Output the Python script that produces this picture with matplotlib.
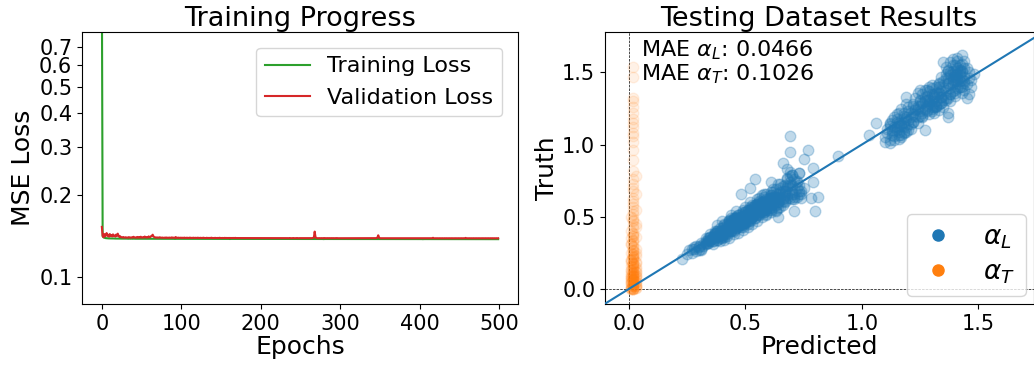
import matplotlib
matplotlib.use("Agg")
import matplotlib.pyplot as plt
from matplotlib.lines import Line2D
from matplotlib.ticker import FixedLocator, FixedFormatter, NullLocator

# ---------------- Training progress data ----------------
train_loss = [
    1.2500, 0.1415, 0.1402, 0.1396, 0.1393, 0.1391, 0.1390, 0.1389, 0.1389, 0.1388, 0.1388, 0.1388, 0.1387, 0.1387, 0.1387, 0.1387, 0.1386, 0.1386, 0.1386, 0.1386, 0.1386, 0.1386, 0.1386, 0.1385, 0.1385,
    0.1385, 0.1385, 0.1385, 0.1385, 0.1385, 0.1385, 0.1385, 0.1385, 0.1384, 0.1385, 0.1385, 0.1384, 0.1385, 0.1384, 0.1384, 0.1385, 0.1384, 0.1384, 0.1384, 0.1384, 0.1384, 0.1384, 0.1384, 0.1384, 0.1384,
    0.1384, 0.1384, 0.1384, 0.1384, 0.1384, 0.1384, 0.1383, 0.1384, 0.1384, 0.1383, 0.1384, 0.1384, 0.1383, 0.1384, 0.1383, 0.1384, 0.1383, 0.1383, 0.1384, 0.1383, 0.1383, 0.1384, 0.1383, 0.1383, 0.1383,
    0.1383, 0.1383, 0.1383, 0.1383, 0.1383, 0.1384, 0.1383, 0.1383, 0.1383, 0.1383, 0.1383, 0.1383, 0.1383, 0.1383, 0.1383, 0.1383, 0.1383, 0.1382, 0.1383, 0.1383, 0.1383, 0.1382, 0.1383, 0.1383, 0.1383,
    0.1383, 0.1382, 0.1383, 0.1383, 0.1382, 0.1383, 0.1383, 0.1382, 0.1383, 0.1382, 0.1383, 0.1383, 0.1382, 0.1383, 0.1382, 0.1383, 0.1382, 0.1382, 0.1383, 0.1382, 0.1383, 0.1382, 0.1382, 0.1383, 0.1382,
    0.1382, 0.1382, 0.1383, 0.1382, 0.1382, 0.1382, 0.1383, 0.1382, 0.1382, 0.1382, 0.1382, 0.1383, 0.1382, 0.1382, 0.1382, 0.1382, 0.1382, 0.1382, 0.1382, 0.1382, 0.1383, 0.1382, 0.1382, 0.1382, 0.1382,
    0.1382, 0.1382, 0.1382, 0.1382, 0.1382, 0.1382, 0.1382, 0.1382, 0.1382, 0.1382, 0.1382, 0.1381, 0.1382, 0.1382, 0.1382, 0.1382, 0.1382, 0.1381, 0.1382, 0.1382, 0.1382, 0.1382, 0.1381, 0.1382, 0.1382,
    0.1382, 0.1382, 0.1381, 0.1382, 0.1382, 0.1382, 0.1381, 0.1382, 0.1382, 0.1382, 0.1381, 0.1382, 0.1382, 0.1381, 0.1382, 0.1382, 0.1381, 0.1382, 0.1382, 0.1381, 0.1382, 0.1382, 0.1381, 0.1382, 0.1381,
    0.1382, 0.1381, 0.1382, 0.1382, 0.1381, 0.1382, 0.1381, 0.1382, 0.1381, 0.1382, 0.1381, 0.1381, 0.1382, 0.1381, 0.1382, 0.1381, 0.1381, 0.1382, 0.1381, 0.1381, 0.1382, 0.1381, 0.1381, 0.1382, 0.1381,
    0.1381, 0.1382, 0.1381, 0.1381, 0.1381, 0.1382, 0.1381, 0.1381, 0.1381, 0.1382, 0.1381, 0.1381, 0.1381, 0.1381, 0.1382, 0.1381, 0.1381, 0.1381, 0.1381, 0.1381, 0.1382, 0.1381, 0.1381, 0.1381, 0.1381,
    0.1381, 0.1381, 0.1381, 0.1381, 0.1381, 0.1381, 0.1381, 0.1381, 0.1382, 0.1381, 0.1381, 0.1381, 0.1381, 0.1381, 0.1381, 0.1381, 0.1381, 0.1381, 0.1382, 0.1381, 0.1381, 0.1381, 0.1381, 0.1381, 0.1381,
    0.1381, 0.1381, 0.1381, 0.1381, 0.1380, 0.1381, 0.1381, 0.1381, 0.1381, 0.1380, 0.1381, 0.1381, 0.1381, 0.1381, 0.1380, 0.1381, 0.1381, 0.1381, 0.1380, 0.1381, 0.1381, 0.1381, 0.1380, 0.1381, 0.1381,
    0.1380, 0.1381, 0.1381, 0.1380, 0.1381, 0.1381, 0.1380, 0.1381, 0.1381, 0.1380, 0.1381, 0.1380, 0.1381, 0.1381, 0.1380, 0.1381, 0.1380, 0.1381, 0.1380, 0.1381, 0.1381, 0.1380, 0.1381, 0.1380, 0.1381,
    0.1380, 0.1381, 0.1380, 0.1381, 0.1380, 0.1381, 0.1380, 0.1380, 0.1381, 0.1380, 0.1381, 0.1380, 0.1380, 0.1381, 0.1380, 0.1380, 0.1381, 0.1380, 0.1380, 0.1381, 0.1380, 0.1380, 0.1381, 0.1380, 0.1380,
    0.1380, 0.1381, 0.1380, 0.1380, 0.1380, 0.1381, 0.1380, 0.1380, 0.1380, 0.1380, 0.1381, 0.1380, 0.1380, 0.1380, 0.1380, 0.1381, 0.1380, 0.1380, 0.1380, 0.1380, 0.1380, 0.1381, 0.1380, 0.1380, 0.1380,
    0.1380, 0.1380, 0.1380, 0.1380, 0.1380, 0.1381, 0.1380, 0.1380, 0.1380, 0.1380, 0.1380, 0.1380, 0.1380, 0.1380, 0.1381, 0.1380, 0.1380, 0.1380, 0.1380, 0.1380, 0.1380, 0.1380, 0.1380, 0.1380, 0.1380,
    0.1380, 0.1380, 0.1380, 0.1380, 0.1379, 0.1380, 0.1380, 0.1380, 0.1380, 0.1380, 0.1379, 0.1380, 0.1380, 0.1380, 0.1380, 0.1379, 0.1380, 0.1380, 0.1380, 0.1380, 0.1379, 0.1380, 0.1380, 0.1380, 0.1379,
    0.1380, 0.1380, 0.1379, 0.1380, 0.1380, 0.1380, 0.1379, 0.1380, 0.1380, 0.1379, 0.1380, 0.1380, 0.1379, 0.1380, 0.1380, 0.1379, 0.1380, 0.1380, 0.1379, 0.1380, 0.1379, 0.1380, 0.1380, 0.1379, 0.1380,
    0.1379, 0.1380, 0.1379, 0.1380, 0.1380, 0.1379, 0.1380, 0.1379, 0.1380, 0.1379, 0.1380, 0.1379, 0.1380, 0.1379, 0.1380, 0.1379, 0.1379, 0.1380, 0.1379, 0.1380, 0.1379, 0.1379, 0.1380, 0.1379, 0.1379,
    0.1380, 0.1379, 0.1379, 0.1380, 0.1379, 0.1379, 0.1379, 0.1380, 0.1379, 0.1379, 0.1379, 0.1380, 0.1379, 0.1379, 0.1379, 0.1379, 0.1380, 0.1379, 0.1379, 0.1379, 0.1379, 0.1379, 0.1380, 0.1379, 0.1379,
]

val_loss = [
    0.1530, 0.1418, 0.1402, 0.1440, 0.1412, 0.1425, 0.1452, 0.1419, 0.1431, 0.1408, 0.1440, 0.1416, 0.1428, 0.1411, 0.1436, 0.1415, 0.1422, 0.1409, 0.1433, 0.1417, 0.1445, 0.1421, 0.1405, 0.1414, 0.1402,
    0.1401, 0.1398, 0.1404, 0.1399, 0.1397, 0.1402, 0.1398, 0.1396, 0.1400, 0.1403, 0.1397, 0.1399, 0.1396, 0.1401, 0.1398, 0.1407, 0.1399, 0.1397, 0.1400, 0.1396, 0.1405, 0.1398, 0.1402, 0.1397, 0.1408,
    0.1399, 0.1397, 0.1403, 0.1398, 0.1410, 0.1402, 0.1397, 0.1404, 0.1399, 0.1412, 0.1401, 0.1403, 0.1415, 0.1419, 0.1432, 0.1412, 0.1403, 0.1398, 0.1400, 0.1397, 0.1399, 0.1396, 0.1398, 0.1401, 0.1397,
    0.1395, 0.1398, 0.1396, 0.1394, 0.1397, 0.1395, 0.1399, 0.1394, 0.1396, 0.1395, 0.1398, 0.1394, 0.1396, 0.1400, 0.1395, 0.1397, 0.1394, 0.1396, 0.1404, 0.1395, 0.1393, 0.1397, 0.1395, 0.1394, 0.1396,
    0.1394, 0.1396, 0.1393, 0.1395, 0.1397, 0.1394, 0.1393, 0.1396, 0.1394, 0.1393, 0.1395, 0.1397, 0.1393, 0.1394, 0.1393, 0.1396, 0.1394, 0.1393, 0.1395, 0.1393, 0.1394, 0.1396, 0.1393, 0.1393, 0.1395,
    0.1393, 0.1393, 0.1394, 0.1396, 0.1393, 0.1393, 0.1392, 0.1395, 0.1393, 0.1393, 0.1394, 0.1392, 0.1393, 0.1396, 0.1393, 0.1392, 0.1393, 0.1393, 0.1394, 0.1392, 0.1393, 0.1393, 0.1392, 0.1395, 0.1393,
    0.1392, 0.1393, 0.1393, 0.1392, 0.1393, 0.1394, 0.1392, 0.1393, 0.1392, 0.1393, 0.1392, 0.1393, 0.1392, 0.1392, 0.1393, 0.1392, 0.1393, 0.1392, 0.1394, 0.1392, 0.1392, 0.1393, 0.1392, 0.1392, 0.1393,
    0.1392, 0.1393, 0.1392, 0.1392, 0.1392, 0.1393, 0.1392, 0.1392, 0.1391, 0.1393, 0.1392, 0.1392, 0.1391, 0.1392, 0.1393, 0.1391, 0.1392, 0.1392, 0.1391, 0.1393, 0.1392, 0.1391, 0.1392, 0.1392, 0.1391,
    0.1392, 0.1391, 0.1392, 0.1393, 0.1391, 0.1392, 0.1391, 0.1392, 0.1391, 0.1392, 0.1391, 0.1393, 0.1391, 0.1391, 0.1392, 0.1391, 0.1392, 0.1391, 0.1391, 0.1392, 0.1391, 0.1391, 0.1392, 0.1391, 0.1391,
    0.1392, 0.1391, 0.1391, 0.1391, 0.1392, 0.1391, 0.1391, 0.1392, 0.1391, 0.1391, 0.1390, 0.1392, 0.1391, 0.1391, 0.1390, 0.1391, 0.1392, 0.1391, 0.1390, 0.1391, 0.1391, 0.1392, 0.1390, 0.1391, 0.1391,
    0.1391, 0.1390, 0.1391, 0.1391, 0.1392, 0.1390, 0.1391, 0.1391, 0.1390, 0.1391, 0.1392, 0.1390, 0.1391, 0.1391, 0.1390, 0.1391, 0.1394, 0.1400, 0.1470, 0.1405, 0.1392, 0.1391, 0.1390, 0.1391, 0.1391,
    0.1390, 0.1391, 0.1391, 0.1390, 0.1391, 0.1392, 0.1390, 0.1391, 0.1390, 0.1391, 0.1390, 0.1391, 0.1390, 0.1390, 0.1391, 0.1390, 0.1391, 0.1390, 0.1390, 0.1391, 0.1390, 0.1392, 0.1390, 0.1390, 0.1391,
    0.1390, 0.1391, 0.1390, 0.1390, 0.1391, 0.1390, 0.1390, 0.1391, 0.1390, 0.1390, 0.1391, 0.1390, 0.1390, 0.1391, 0.1390, 0.1390, 0.1390, 0.1391, 0.1390, 0.1390, 0.1391, 0.1390, 0.1390, 0.1391, 0.1390,
    0.1390, 0.1390, 0.1390, 0.1391, 0.1390, 0.1390, 0.1389, 0.1391, 0.1390, 0.1390, 0.1389, 0.1390, 0.1391, 0.1390, 0.1390, 0.1389, 0.1390, 0.1390, 0.1391, 0.1390, 0.1389, 0.1391, 0.1399, 0.1425, 0.1400,
    0.1390, 0.1390, 0.1391, 0.1389, 0.1390, 0.1390, 0.1389, 0.1390, 0.1391, 0.1389, 0.1390, 0.1390, 0.1389, 0.1390, 0.1390, 0.1391, 0.1389, 0.1390, 0.1390, 0.1389, 0.1390, 0.1389, 0.1390, 0.1390, 0.1389,
    0.1390, 0.1389, 0.1390, 0.1389, 0.1390, 0.1390, 0.1389, 0.1390, 0.1391, 0.1389, 0.1390, 0.1389, 0.1390, 0.1389, 0.1390, 0.1390, 0.1389, 0.1390, 0.1389, 0.1390, 0.1390, 0.1389, 0.1390, 0.1389, 0.1390,
    0.1389, 0.1390, 0.1389, 0.1390, 0.1390, 0.1389, 0.1390, 0.1389, 0.1390, 0.1389, 0.1390, 0.1389, 0.1390, 0.1389, 0.1390, 0.1389, 0.1390, 0.1395, 0.1390, 0.1389, 0.1390, 0.1390, 0.1389, 0.1390, 0.1389,
    0.1390, 0.1389, 0.1390, 0.1389, 0.1390, 0.1389, 0.1390, 0.1390, 0.1389, 0.1390, 0.1389, 0.1390, 0.1389, 0.1390, 0.1389, 0.1390, 0.1389, 0.1390, 0.1389, 0.1390, 0.1390, 0.1389, 0.1390, 0.1389, 0.1390,
    0.1389, 0.1390, 0.1389, 0.1390, 0.1389, 0.1390, 0.1389, 0.1390, 0.1394, 0.1390, 0.1389, 0.1390, 0.1389, 0.1390, 0.1389, 0.1390, 0.1389, 0.1390, 0.1390, 0.1389, 0.1390, 0.1389, 0.1390, 0.1389, 0.1390,
    0.1389, 0.1390, 0.1389, 0.1390, 0.1390, 0.1389, 0.1390, 0.1389, 0.1390, 0.1389, 0.1390, 0.1389, 0.1390, 0.1389, 0.1390, 0.1390, 0.1389, 0.1390, 0.1389, 0.1390, 0.1389, 0.1390, 0.1390, 0.1389, 0.1390,
]

epochs = list(range(len(train_loss)))

loss_ticks = [0.1, 0.2, 0.3, 0.4, 0.5, 0.6, 0.7]
loss_tick_labels = ["0.1", "0.2", "0.3", "0.4", "0.5", "0.6", "0.7"]

# ---------------- Testing dataset results ----------------
pred_L = [
    0.23, 0.25, 0.26, 0.27, 0.28, 0.29, 0.30, 0.27, 0.31, 0.29, 0.32, 0.30, 0.33, 0.28, 0.31,
    0.32, 0.33, 0.34, 0.35, 0.36, 0.37, 0.38, 0.34, 0.36, 0.39, 0.40, 0.35, 0.37, 0.41, 0.38, 0.33, 0.36, 0.39, 0.42, 0.40,
    0.37, 0.35, 0.38, 0.41, 0.43, 0.39, 0.36, 0.40, 0.42, 0.44, 0.38, 0.34, 0.37, 0.41, 0.45, 0.39, 0.43, 0.40, 0.36, 0.42,
    0.40, 0.42, 0.44, 0.46, 0.43, 0.45, 0.47, 0.41, 0.44, 0.48, 0.46, 0.43, 0.49, 0.45, 0.47, 0.50, 0.44, 0.42, 0.46, 0.48,
    0.51, 0.45, 0.43, 0.47, 0.49, 0.52, 0.46, 0.44, 0.48, 0.50, 0.41, 0.45, 0.53, 0.47, 0.49, 0.51, 0.43, 0.46, 0.48, 0.52,
    0.50, 0.44, 0.47, 0.54, 0.49, 0.45, 0.51, 0.48, 0.46, 0.53,
    0.50, 0.52, 0.54, 0.56, 0.53, 0.55, 0.57, 0.51, 0.54, 0.58, 0.56, 0.59, 0.53, 0.55, 0.60, 0.57, 0.52, 0.61, 0.58, 0.54,
    0.56, 0.62, 0.59, 0.55, 0.57, 0.60, 0.63, 0.53, 0.58, 0.61, 0.56, 0.64, 0.59, 0.57, 0.62, 0.55, 0.60, 0.65, 0.58, 0.63,
    0.61, 0.66, 0.49, 0.59, 0.64,
    0.60, 0.62, 0.64, 0.66, 0.68, 0.70, 0.63, 0.65, 0.67, 0.69, 0.71, 0.61, 0.66, 0.72, 0.68, 0.70, 0.64, 0.73, 0.69, 0.67,
    0.71, 0.74, 0.72, 0.70, 0.65, 0.68, 0.73, 0.75, 0.71, 0.69, 0.72, 0.74, 0.67, 0.70, 0.73,
    0.69, 0.69, 0.77, 0.66, 0.54, 0.61, 0.81, 0.80, 0.78, 0.79, 0.90, 0.71, 0.64, 0.48, 0.52, 0.75, 0.73, 0.68, 0.79,
    0.35, 0.38, 0.41, 0.44, 0.47, 0.50, 0.53, 0.56, 0.59, 0.62, 0.65, 0.68, 0.36, 0.39, 0.42, 0.45, 0.48, 0.51, 0.54, 0.57,
    0.60, 0.63, 0.66, 0.69, 0.37, 0.40, 0.43, 0.46, 0.49, 0.52, 0.55, 0.58, 0.61, 0.64, 0.67, 0.70, 0.44, 0.47, 0.50, 0.53,
    0.56, 0.59, 0.62, 0.45, 0.48, 0.51, 0.54, 0.57, 0.60, 0.63, 0.46, 0.49, 0.52, 0.55, 0.58, 0.42, 0.48, 0.55, 0.61, 0.66,
    0.31, 0.33, 0.35, 0.37, 0.39, 0.41, 0.43, 0.45, 0.47, 0.49, 0.51, 0.53, 0.55, 0.57, 0.59, 0.61, 0.63, 0.65, 0.67, 0.34,
    0.38, 0.42, 0.46, 0.50, 0.54, 0.58, 0.62, 0.66, 0.70, 0.72, 0.30, 0.34, 0.40, 0.44, 0.48, 0.52, 0.56, 0.60, 0.64, 0.68,
    0.40, 0.43, 0.46, 0.49, 0.52, 0.55, 0.58, 0.61, 0.64, 0.67, 0.70, 0.73, 0.41, 0.44, 0.47, 0.50, 0.53, 0.56, 0.59, 0.62,
    0.65, 0.68, 0.71, 0.74, 0.38, 0.45, 0.51, 0.57, 0.63, 0.69,
    1.10, 1.11, 1.12, 1.13, 1.14, 1.15, 1.16, 1.17, 1.12, 1.14, 1.16, 1.18, 1.13, 1.15, 1.17, 1.19, 1.11, 1.14, 1.16, 1.18,
    1.20, 1.13, 1.15, 1.17, 1.19, 1.21, 1.12, 1.16, 1.18, 1.20, 1.22, 1.14, 1.17, 1.19, 1.21, 1.15, 1.18, 1.20, 1.22, 1.24,
    1.16, 1.19, 1.21, 1.23, 1.13, 1.17, 1.20, 1.22, 1.25, 1.18,
    1.22, 1.23, 1.24, 1.25, 1.26, 1.27, 1.28, 1.29, 1.24, 1.26, 1.28, 1.30, 1.25, 1.27, 1.29, 1.31, 1.23, 1.26, 1.28, 1.30,
    1.32, 1.24, 1.27, 1.29, 1.31, 1.33, 1.25, 1.28, 1.30, 1.32, 1.34, 1.26, 1.29, 1.31, 1.33, 1.27, 1.30, 1.32, 1.34, 1.28,
    1.31, 1.33, 1.35, 1.29, 1.32, 1.34, 1.30, 1.33, 1.35, 1.31,
    1.32, 1.33, 1.34, 1.35, 1.36, 1.37, 1.38, 1.39, 1.40, 1.41, 1.34, 1.36, 1.38, 1.40, 1.42, 1.35, 1.37, 1.39, 1.41, 1.43,
    1.33, 1.36, 1.38, 1.40, 1.42, 1.44, 1.35, 1.37, 1.39, 1.41, 1.43, 1.38, 1.40, 1.42, 1.44, 1.36, 1.39, 1.41, 1.43, 1.45,
    1.37, 1.40, 1.42, 1.38, 1.41, 1.43, 1.39, 1.42, 1.44, 1.40, 1.36, 1.38, 1.41, 1.43, 1.39, 1.42, 1.37, 1.40, 1.44, 1.41,
    1.14, 1.17, 1.20, 1.23, 1.26, 1.29, 1.32, 1.35, 1.38, 1.41, 1.44, 1.15, 1.18, 1.21, 1.24, 1.27, 1.30, 1.33, 1.36, 1.39,
    1.42, 1.45, 1.16, 1.19, 1.22, 1.25, 1.28, 1.31, 1.34, 1.37, 1.40, 1.43, 1.46, 1.48, 1.12, 1.35, 1.39, 1.44, 1.30, 1.47,
    1.03, 1.06, 1.27, 1.37, 1.25, 1.47, 1.46, 1.43, 1.41, 1.46, 1.10, 1.12, 1.37, 1.45, 1.19,
]
truth_L = [
    0.21, 0.24, 0.27, 0.25, 0.28, 0.26, 0.29, 0.28, 0.27, 0.30, 0.30, 0.27, 0.31, 0.29, 0.28,
    0.31, 0.33, 0.32, 0.34, 0.33, 0.35, 0.36, 0.35, 0.31, 0.37, 0.36, 0.33, 0.38, 0.38, 0.34, 0.32, 0.36, 0.35, 0.39, 0.40,
    0.37, 0.36, 0.39, 0.36, 0.40, 0.33, 0.35, 0.38, 0.37, 0.41, 0.40, 0.34, 0.39, 0.39, 0.40, 0.38, 0.42, 0.35, 0.37, 0.40,
    0.42, 0.41, 0.43, 0.42, 0.45, 0.44, 0.43, 0.44, 0.47, 0.45, 0.46, 0.42, 0.44, 0.48, 0.47, 0.46, 0.40, 0.45, 0.49, 0.48,
    0.47, 0.41, 0.47, 0.45, 0.50, 0.49, 0.44, 0.46, 0.43, 0.48, 0.40, 0.49, 0.50, 0.51, 0.46, 0.45, 0.48, 0.47, 0.50, 0.47,
    0.51, 0.49, 0.44, 0.49, 0.43, 0.46, 0.52, 0.45, 0.50, 0.52,
    0.53, 0.51, 0.52, 0.53, 0.56, 0.55, 0.54, 0.55, 0.58, 0.56, 0.52, 0.57, 0.50, 0.59, 0.58, 0.60, 0.57, 0.56, 0.53, 0.54,
    0.61, 0.59, 0.55, 0.62, 0.50, 0.61, 0.58, 0.57, 0.64, 0.55, 0.59, 0.60, 0.52, 0.57, 0.63, 0.51, 0.56, 0.62, 0.60, 0.54,
    0.65, 0.58, 0.55, 0.66, 0.56,
    0.61, 0.63, 0.66, 0.62, 0.65, 0.67, 0.69, 0.64, 0.68, 0.63, 0.66, 0.67, 0.71, 0.64, 0.70, 0.72, 0.60, 0.68, 0.74, 0.61,
    0.76, 0.66, 0.70, 0.62, 0.73, 0.77, 0.72, 0.70, 0.64, 0.78, 0.75, 0.63, 0.66, 0.79, 0.80,
    1.06, 0.95, 0.96, 0.87, 0.76, 0.74, 0.64, 0.54, 0.63, 0.84, 0.92, 0.54, 0.50, 0.66, 0.70, 0.90, 0.80, 0.83, 0.74,
    0.38, 0.34, 0.45, 0.40, 0.51, 0.46, 0.58, 0.51, 0.62, 0.57, 0.70, 0.63, 0.33, 0.42, 0.38, 0.49, 0.44, 0.55, 0.49, 0.60,
    0.55, 0.66, 0.61, 0.72, 0.40, 0.37, 0.47, 0.42, 0.53, 0.48, 0.59, 0.53, 0.65, 0.59, 0.72, 0.66, 0.46, 0.44, 0.53, 0.50,
    0.60, 0.56, 0.67, 0.43, 0.52, 0.48, 0.58, 0.54, 0.63, 0.60, 0.49, 0.46, 0.55, 0.52, 0.61, 0.43, 0.50, 0.57, 0.58, 0.68,
    0.32, 0.35, 0.36, 0.39, 0.40, 0.43, 0.44, 0.47, 0.48, 0.51, 0.52, 0.55, 0.56, 0.59, 0.60, 0.63, 0.64, 0.67, 0.68, 0.33,
    0.40, 0.41, 0.49, 0.48, 0.57, 0.55, 0.64, 0.63, 0.71, 0.74, 0.30, 0.32, 0.41, 0.47, 0.46, 0.55, 0.54, 0.62, 0.62, 0.71,
    0.47, 0.35, 0.54, 0.41, 0.60, 0.47, 0.66, 0.53, 0.73, 0.60, 0.79, 0.66, 0.34, 0.51, 0.39, 0.57, 0.45, 0.63, 0.51, 0.69,
    0.57, 0.76, 0.62, 0.68, 0.44, 0.38, 0.43, 0.65, 0.55, 0.81,
    1.05, 1.08, 1.03, 1.10, 1.06, 1.12, 1.09, 1.14, 1.13, 1.03, 1.15, 1.08, 1.17, 1.10, 1.05, 1.12, 1.11, 1.19, 1.07, 1.16,
    1.10, 1.07, 1.21, 1.13, 1.18, 1.14, 1.15, 1.04, 1.20, 1.23, 1.16, 1.12, 1.25, 1.09, 1.19, 1.18, 1.13, 1.26, 1.21, 1.15,
    1.22, 1.28, 1.11, 1.24, 1.09, 1.07, 1.17, 1.27, 1.20, 1.22,
    1.28, 1.32, 1.25, 1.30, 1.22, 1.33, 1.27, 1.29, 1.36, 1.19, 1.24, 1.35, 1.31, 1.38, 1.21, 1.26, 1.20, 1.29, 1.34, 1.23,
    1.30, 1.27, 1.25, 1.37, 1.32, 1.28, 1.23, 1.31, 1.39, 1.26, 1.33, 1.35, 1.28, 1.22, 1.36, 1.30, 1.25, 1.40, 1.29, 1.38,
    1.33, 1.24, 1.31, 1.40, 1.27, 1.37, 1.30, 1.42, 1.26, 1.35,
    1.36, 1.40, 1.33, 1.44, 1.38, 1.46, 1.35, 1.42, 1.48, 1.39, 1.47, 1.31, 1.50, 1.36, 1.44, 1.41, 1.52, 1.45, 1.53, 1.40,
    1.43, 1.49, 1.39, 1.55, 1.50, 1.47, 1.34, 1.43, 1.51, 1.46, 1.56, 1.48, 1.42, 1.52, 1.38, 1.54, 1.37, 1.58, 1.45, 1.42,
    1.32, 1.50, 1.55, 1.57, 1.44, 1.51, 1.47, 1.40, 1.53, 1.34, 1.46, 1.30, 1.49, 1.36, 1.55, 1.48, 1.51, 1.45, 1.44, 1.52,
    1.10, 1.17, 1.14, 1.25, 1.20, 1.31, 1.27, 1.39, 1.35, 1.47, 1.43, 1.16, 1.09, 1.22, 1.19, 1.30, 1.26, 1.36, 1.32, 1.45,
    1.40, 1.53, 1.13, 1.19, 1.16, 1.27, 1.23, 1.34, 1.29, 1.43, 1.38, 1.50, 1.46, 1.49, 1.14, 1.57, 1.59, 1.58, 1.41, 1.40,
    1.07, 1.15, 1.10, 1.19, 1.38, 1.45, 1.35, 1.62, 1.60, 1.50, 1.02, 1.01, 1.22, 1.32, 1.33,
]

pred_T = [
    0.02, 0.01, 0.03, 0.02, 0.01, 0.02, 0.03, 0.02, 0.01, 0.02, 0.03, 0.02, 0.01, 0.02, 0.03, 0.02, 0.01, 0.02, 0.02, 0.03,
    0.01, 0.02, 0.02, 0.03, 0.01, 0.02, 0.02, 0.03, 0.01, 0.02, 0.02, 0.03, 0.01, 0.02, 0.02, 0.03, 0.02, 0.01, 0.02, 0.02,
    0.03, 0.02, 0.01, 0.02, 0.02, 0.03, 0.02, 0.02, 0.01, 0.02, 0.02, 0.03, 0.02, 0.02, 0.01, 0.02, 0.02, 0.03, 0.02, 0.02,
    0.02, 0.02, 0.03, 0.02, 0.02, 0.02, 0.02, 0.03, 0.02, 0.02, 0.02, 0.02, 0.02, 0.02, 0.02, 0.02, 0.02, 0.02, 0.02, 0.02,
    0.02, 0.02, 0.02,
    0.02, 0.01, 0.03, 0.02, 0.01, 0.02, 0.03, 0.02, 0.01, 0.02, 0.03, 0.02, 0.02, 0.01, 0.02, 0.03, 0.02, 0.02, 0.01, 0.02,
    0.03, 0.02, 0.02, 0.01, 0.03, 0.02, 0.01, 0.02, 0.03, 0.02, 0.01, 0.02, 0.02,
    0.02, 0.01, 0.03, 0.02, 0.02, 0.01, 0.03, 0.02, 0.02, 0.01, 0.03, 0.02, 0.02, 0.01, 0.02, 0.03, 0.02, 0.02, 0.01, 0.02,
]
truth_T = [
    0.00, 0.00, 0.01, 0.01, 0.02, 0.02, 0.03, 0.03, 0.04, 0.04, 0.05, 0.05, 0.06, 0.06, 0.07, 0.07, 0.08, 0.08, 0.09, 0.10,
    0.10, 0.11, 0.12, 0.12, 0.13, 0.14, 0.15, 0.15, 0.16, 0.17, 0.18, 0.19, 0.20, 0.21, 0.22, 0.23, 0.24, 0.25, 0.26, 0.27,
    0.28, 0.30, 0.31, 0.33, 0.34, 0.36, 0.37, 0.39, 0.40, 0.42, 0.44, 0.45, 0.47, 0.49, 0.50, 0.52, 0.54, 0.55, 0.57, 0.59,
    0.61, 0.63, 0.66, 0.68, 0.70, 0.73, 0.76, 0.78, 0.82, 0.89, 0.96, 1.02, 1.06, 1.08, 1.12, 1.15, 1.18, 1.22, 1.26, 1.30,
    1.32, 1.47, 1.54,
    0.00, 0.01, 0.02, 0.03, 0.05, 0.06, 0.08, 0.09, 0.11, 0.13, 0.14, 0.16, 0.18, 0.20, 0.22, 0.25, 0.29, 0.32, 0.35, 0.38,
    0.43, 0.48, 0.00, 0.01, 0.02, 0.04, 0.07, 0.10, 0.12, 0.17, 0.19, 0.21, 0.24,
    0.00, 0.00, 0.01, 0.02, 0.03, 0.04, 0.05, 0.06, 0.07, 0.08, 0.09, 0.10, 0.11, 0.13, 0.15, 0.18, 0.23, 0.27, 0.31, 0.37,
]

mae_L = 0.0466
mae_T = 0.1026

# ---------------- Figure ----------------
W, H = 1034, 365
fig = plt.figure(figsize=(W / 100, H / 100), dpi=100)

ax1 = fig.add_axes([82 / W, (H - 304) / H, (518 - 82) / W, (304 - 32) / H])
ax2 = fig.add_axes([605 / W, (H - 304) / H, (1033.5 - 605) / W, (304 - 32) / H])

tick_fs = 15
label_fs = 18
title_fs = 19.5

# Left: training progress
ax1.plot(epochs, train_loss, color="#2ca02c", lw=1.5, label="Training Loss")
ax1.plot(epochs, val_loss, color="#d62728", lw=1.5, label="Validation Loss")
ax1.set_yscale("log")
ax1.set_ylim(0.0797, 0.795)
ax1.set_xlim(-25, 524)
ax1.yaxis.set_major_locator(FixedLocator(loss_ticks))
ax1.yaxis.set_major_formatter(FixedFormatter(loss_tick_labels))
ax1.yaxis.set_minor_locator(NullLocator())
ax1.set_title("Training Progress", fontsize=title_fs, pad=4)
ax1.set_xlabel("Epochs", fontsize=label_fs, labelpad=1)
ax1.set_ylabel("MSE Loss", fontsize=label_fs, labelpad=3)
ax1.tick_params(axis="both", which="both", labelsize=tick_fs)
ax1.legend(loc="upper right", fontsize=16, borderaxespad=0.7)

# Right: testing results
ax2.scatter(pred_L, truth_L, s=58, color="#1f77b4", alpha=0.28, zorder=2)
ax2.scatter(pred_T, truth_T, s=58, color="#ff7f0e", alpha=0.1, zorder=2)
ax2.axline((0, 0), slope=1, color="#1f77b4", lw=1.5, zorder=3)
ax2.axvline(0, color="black", ls="--", lw=0.5, zorder=1)
ax2.axhline(0, color="black", ls="--", lw=0.5, zorder=1)
ax2.set_xlim(-0.102, 1.737)
ax2.set_ylim(-0.104, 1.78)
ax2.set_xticks([0.0, 0.5, 1.0, 1.5])
ax2.set_yticks([0.0, 0.5, 1.0, 1.5])
ax2.set_title("Testing Dataset Results", fontsize=title_fs, pad=4)
ax2.set_xlabel("Predicted", fontsize=label_fs, labelpad=1)
ax2.set_ylabel("Truth", fontsize=label_fs, labelpad=2)
ax2.tick_params(axis="both", labelsize=tick_fs)
ax2.text(0.084, 0.975, f"MAE $\\alpha_L$: {mae_L:.4f}\nMAE $\\alpha_T$: {mae_T:.4f}",
         transform=ax2.transAxes, ha="left", va="top", fontsize=16, linespacing=1.0)

handles = [
    Line2D([], [], ls="", marker="o", color="#1f77b4", markersize=8, label=r"$\alpha_L$"),
    Line2D([], [], ls="", marker="o", color="#ff7f0e", markersize=8, label=r"$\alpha_T$"),
]
ax2.legend(handles=handles, loc="lower right", fontsize=19, handlelength=1.6, handletextpad=0.9,
           borderaxespad=0.3, labelspacing=0.3)

fig.savefig("out.png", dpi=100)
